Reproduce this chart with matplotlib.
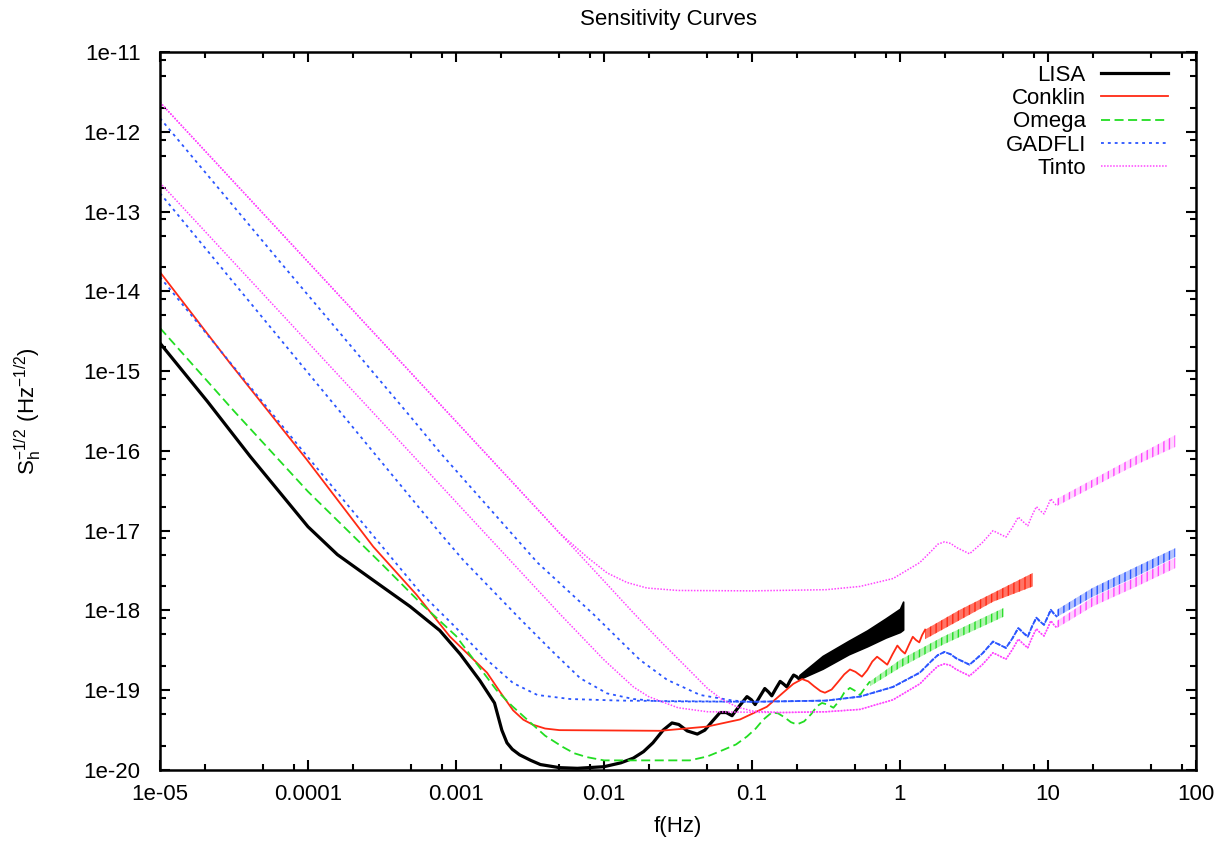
import numpy as np
import matplotlib.pyplot as plt
from matplotlib.colors import to_rgba
from matplotlib.ticker import FixedLocator, FixedFormatter, NullFormatter

plt.rcParams['font.family'] = ['Liberation Sans', 'DejaVu Sans']
plt.rcParams['mathtext.fontset'] = 'custom'
plt.rcParams['mathtext.rm'] = 'Liberation Sans'
plt.rcParams['hatch.linewidth'] = 1.0

# ---- LISA ----
lisa_f = [1e-5, 2.09e-5, 4.07e-5, 1e-4, 1.58e-4, 2.75e-4, 4.9e-4, 7.76e-4, 1.07e-3, 1.45e-3,
          1.82e-3, 2.04e-3, 2.21e-3, 2.4e-3, 2.69e-3, 3.2e-3, 3.72e-3, 5.01e-3, 6.61e-3, 1e-2,
          1.3e-2, 1.58e-2, 1.85e-2, 2.14e-2,
          2.51e-2, 2.88e-2, 3.2e-2, 3.65e-2, 4.27e-2, 4.8e-2, 5.45e-2, 6.08e-2, 6.7e-2, 7.33e-2,
          8.2e-2, 9.25e-2, 9.9e-2, 0.105, 0.113, 0.122, 0.129, 0.136, 0.145, 0.155,
          0.163, 0.172, 0.181, 0.191, 0.200, 0.209]
lisa_s = [2.24e-15, 4.17e-16, 8.51e-17, 1.12e-17, 5.01e-18, 2.40e-18, 1.12e-18, 5.62e-19, 2.82e-19, 1.32e-19,
          6.92e-20, 3.16e-20, 2.19e-20, 1.82e-20, 1.55e-20, 1.32e-20, 1.17e-20, 1.07e-20, 1.05e-20, 1.10e-20,
          1.23e-20, 1.41e-20, 1.70e-20, 2.19e-20,
          3.16e-20, 3.89e-20, 3.72e-20, 3.09e-20, 2.82e-20, 3.16e-20, 4.17e-20, 5.25e-20, 5.25e-20, 4.79e-20,
          6.31e-20, 8.32e-20, 7.59e-20, 6.61e-20, 8.32e-20, 1.05e-19, 9.55e-20, 8.51e-20, 1.05e-19, 1.29e-19,
          1.20e-19, 1.10e-19, 1.32e-19, 1.55e-19, 1.48e-19, 1.38e-19]
# dense oscillation region drawn as its envelope
lisa_band_f = [0.209, 0.30, 0.45, 0.60, 0.80, 1.0, 1.05]
lisa_band_lo = [1.38e-19, 1.86e-19, 2.82e-19, 3.55e-19, 4.57e-19, 5.37e-19, 5.75e-19]
lisa_band_hi = [1.55e-19, 2.69e-19, 4.17e-19, 5.62e-19, 7.94e-19, 1.05e-18, 1.29e-18]

# ---- Conklin ----
conklin_f = [1e-5, 2.97e-5, 9.8e-5, 2.76e-4, 5.4e-4, 9.1e-4, 1.62e-3, 2.0e-3, 2.43e-3, 2.85e-3,
             3.3e-3, 4.0e-3, 5.0e-3, 2.4e-2, 4.97e-2, 8.3e-2, 0.126, 0.162, 0.19, 0.218,
             0.24, 0.263, 0.29, 0.311, 0.345, 0.38, 0.42, 0.459, 0.50, 0.553,
             0.60, 0.65, 0.70, 0.76, 0.82, 0.89, 0.96, 1.02, 1.08, 1.15,
             1.22, 1.28, 1.35, 1.41, 1.48]
conklin_s = [1.74e-14, 1.26e-15, 7.8e-17, 6.3e-18, 1.58e-18, 4.7e-19, 1.66e-19, 9.33e-20, 5.6e-20, 4.27e-20,
             3.7e-20, 3.31e-20, 3.16e-20, 3.1e-20, 3.5e-20, 4.3e-20, 6.2e-20, 9.3e-20, 1.20e-19, 1.38e-19,
             1.29e-19, 1.12e-19, 9.77e-20, 9.3e-20, 1.02e-19, 1.26e-19, 1.58e-19, 1.82e-19, 1.70e-19, 1.48e-19,
             1.78e-19, 2.29e-19, 2.63e-19, 2.34e-19, 2.09e-19, 2.82e-19, 3.63e-19, 3.16e-19, 2.88e-19, 3.72e-19,
             4.68e-19, 4.27e-19, 3.98e-19, 4.90e-19, 5.75e-19]
conklin_band_f = [1.48, 2.54, 4.27, 7.9]
conklin_band_lo = [4.37e-19, 7.59e-19, 1.29e-18, 2.0e-18]
conklin_band_hi = [5.75e-19, 1.02e-18, 1.66e-18, 2.95e-18]

# ---- Omega ----
omega_f = [1e-5, 3.16e-5, 1e-4, 3.16e-4, 5.71e-4, 1e-3, 1.88e-3, 2.4e-3, 3.16e-3, 4.0e-3,
           5.25e-3, 6.3e-3, 7.67e-3, 1e-2, 3.8e-2, 5e-2, 6.37e-2, 7.8e-2, 9.25e-2, 0.106,
           0.119, 0.136, 0.15, 0.166, 0.183, 0.201, 0.225, 0.251, 0.275, 0.297,
           0.325, 0.355, 0.39, 0.42, 0.459, 0.50, 0.537, 0.58, 0.627]
omega_s = [3.47e-15, 3.16e-16, 3.09e-17, 3.80e-18, 1.26e-18, 4.79e-19, 1.0e-19, 6.31e-20, 3.98e-20, 2.69e-20,
           1.95e-20, 1.62e-20, 1.45e-20, 1.32e-20, 1.32e-20, 1.48e-20, 1.78e-20, 2.09e-20, 2.63e-20, 3.31e-20,
           4.27e-20, 5.25e-20, 5.13e-20, 4.57e-20, 3.98e-20, 3.72e-20, 4.07e-20, 5.01e-20, 6.31e-20, 6.92e-20,
           6.61e-20, 6.03e-20, 7.41e-20, 9.33e-20, 1.07e-19, 9.77e-20, 8.71e-20, 1.07e-19, 1.29e-19]
omega_band_f = [0.627, 1.0, 1.95, 5.0]
omega_band_lo = [1.12e-19, 1.91e-19, 3.72e-19, 8.32e-19]
omega_band_hi = [1.29e-19, 2.40e-19, 4.68e-19, 1.07e-18]

# ---- GADFLI (three low-frequency branches, common high-frequency part) ----
gadfli1_f = [1e-5, 6.47e-5, 5.13e-4, 7.8e-4, 3.55e-3, 8.51e-3, 1.29e-2, 1.75e-2, 2.67e-2, 4.47e-2, 7.45e-2]
gadfli1_s = [1.48e-12, 2.34e-14, 2.45e-16, 9.55e-17, 3.98e-18, 8.91e-19, 4.17e-19, 2.40e-19, 1.35e-19, 8.71e-20, 7.41e-20]
gadfli2_f = [1e-5, 7.8e-4, 1.12e-3, 2.69e-3, 4.52e-3, 6.92e-3, 1.05e-2, 1.58e-2, 2.4e-2]
gadfli2_s = [1.70e-13, 9.33e-18, 4.27e-18, 7.94e-19, 3.02e-19, 1.41e-19, 9.12e-20, 7.76e-20, 7.24e-20]
gadfli3_f = [1e-5, 1e-4, 5.71e-4, 9.55e-4, 1.62e-3, 2.43e-3, 3.55e-3, 5.89e-3, 1.29e-2]
gadfli3_s = [1.51e-14, 8.32e-17, 1.70e-18, 6.61e-19, 2.40e-19, 1.23e-19, 8.71e-20, 7.76e-20, 7.41e-20]
gadfli_tail_f = [0.1, 0.316, 0.537, 0.897, 1.36, 1.66, 1.8, 2.0, 2.2, 2.4,
                 2.95, 3.6, 4.25, 4.7, 5.2, 5.75, 6.3, 6.8, 7.3, 7.8,
                 8.35, 8.85, 9.4, 9.9, 10.45, 10.95, 11.5]
gadfli_tail_s = [7.16e-20, 7.41e-20, 8.32e-20, 1.10e-19, 1.66e-19, 2.40e-19, 2.75e-19, 3.02e-19, 2.82e-19, 2.51e-19,
                 2.09e-19, 2.88e-19, 4.07e-19, 3.72e-19, 3.39e-19, 4.47e-19, 6.03e-19, 5.25e-19, 4.68e-19, 6.31e-19,
                 8.13e-19, 7.24e-19, 6.61e-19, 8.13e-19, 1.02e-18, 9.12e-19, 8.32e-19]
gadfli_band_f = [11.5, 19.95, 39.8, 72.4]
gadfli_band_lo = [8.32e-19, 1.48e-18, 2.69e-18, 4.68e-18]
gadfli_band_hi = [1.02e-18, 1.91e-18, 3.55e-18, 6.03e-18]

# ---- Tinto ----
# upper branch (high floor)
tinto1_f = [1e-5, 1e-3, 5.01e-3, 7.67e-3, 1.05e-2, 1.43e-2, 1.95e-2, 3.16e-2,
            0.1, 0.316, 0.537, 0.897, 1.36, 1.66, 1.8, 2.0, 2.2, 2.4,
            2.95, 3.6, 4.25, 4.7, 5.2, 5.75, 6.3, 6.8, 7.3, 7.8,
            8.35, 8.85, 9.4, 9.9, 10.45, 10.95, 11.5]
tinto1_s = [2.34e-12, 2.34e-16, 9.33e-18, 4.68e-18, 2.95e-18, 2.24e-18, 1.91e-18, 1.78e-18,
            1.76e-18, 1.82e-18, 2.0e-18, 2.51e-18, 3.98e-18, 5.75e-18, 6.76e-18, 7.24e-18, 6.92e-18, 6.17e-18,
            5.13e-18, 7.08e-18, 1.0e-17, 9.12e-18, 8.32e-18, 1.10e-17, 1.48e-17, 1.29e-17, 1.15e-17, 1.55e-17,
            2.0e-17, 1.78e-17, 1.62e-17, 2.0e-17, 2.51e-17, 2.24e-17, 2.04e-17]
tinto1_band_f = [11.5, 26.3, 39.8, 72.4]
tinto1_band_lo = [2.04e-17, 4.57e-17, 6.76e-17, 1.12e-16]
tinto1_band_hi = [2.51e-17, 5.75e-17, 8.71e-17, 1.58e-16]
# two lower branches
tinto2_f = [1e-5, 1e-3, 1e-2, 1.58e-2, 2.51e-2, 3.55e-2, 5.01e-2, 6.31e-2, 7.94e-2, 0.1]
tinto2_s = [2.34e-12, 2.34e-16, 2.34e-18, 9.33e-19, 3.80e-19, 2.0e-19, 1.05e-19, 7.59e-20, 6.17e-20, 5.5e-20]
tinto3_f = [1e-5, 1e-3, 5.01e-3, 1e-2, 1.58e-2, 2.0e-2, 3.16e-2, 5.01e-2]
tinto3_s = [2.29e-13, 2.29e-17, 9.12e-19, 2.40e-19, 1.10e-19, 8.32e-20, 6.03e-20, 5.37e-20]
tinto_tail_f = [0.158, 0.316, 0.537, 0.897, 1.36, 1.66, 1.8, 2.0, 2.2, 2.4,
                2.95, 3.6, 4.25, 4.7, 5.2, 5.75, 6.3, 6.8, 7.3, 7.8,
                8.35, 8.85, 9.4, 9.9, 10.45, 10.95, 11.5]
tinto_tail_s = [5.25e-20, 5.37e-20, 5.75e-20, 7.59e-20, 1.20e-19, 1.74e-19, 2.0e-19, 2.14e-19, 2.04e-19, 1.82e-19,
                1.51e-19, 2.09e-19, 2.95e-19, 2.69e-19, 2.45e-19, 3.24e-19, 4.37e-19, 3.80e-19, 3.39e-19, 4.57e-19,
                5.89e-19, 5.25e-19, 4.79e-19, 5.89e-19, 7.41e-19, 6.61e-19, 6.03e-19]
tinto_band_f = [11.5, 19.95, 39.8, 72.4]
tinto_band_lo = [6.03e-19, 1.12e-18, 2.0e-18, 3.39e-18]
tinto_band_hi = [7.41e-19, 1.45e-18, 2.63e-18, 4.57e-18]

x_ticks = [1e-5, 1e-4, 1e-3, 1e-2, 1e-1, 1, 10, 100]
x_labels = ['1e-05', '0.0001', '0.001', '0.01', '0.1', '1', '10', '100']
y_ticks = [1e-20, 1e-19, 1e-18, 1e-17, 1e-16, 1e-15, 1e-14, 1e-13, 1e-12, 1e-11]
y_labels = ['1e-20', '1e-19', '1e-18', '1e-17', '1e-16', '1e-15', '1e-14', '1e-13', '1e-12', '1e-11']

RED = '#ff2a14'
GREEN = '#22dd22'
BLUE = '#2a55ff'
MAGENTA = '#ff44ff'


def band(ax, f, lo, hi, color, face_alpha, hatch):
    # envelope of the fast oscillations: faint fill plus vertical strokes
    ax.fill_between(f, lo, hi, facecolor=to_rgba(color, face_alpha), edgecolor=color,
                    hatch=hatch, lw=0)


fig = plt.figure(figsize=(12.24, 8.44), dpi=100)
ax = fig.add_axes([160 / 1224, 74 / 844, 1036 / 1224, 718 / 844])
ax.set_xscale('log')
ax.set_yscale('log')

# LISA
ax.plot(lisa_f, lisa_s, color='black', lw=2.3, label='LISA', solid_joinstyle='round')
ax.fill_between(lisa_band_f, lisa_band_lo, lisa_band_hi, color='black', lw=1.2)

# Conklin
ax.plot(conklin_f, conklin_s, color=RED, lw=1.3, label='Conklin', solid_joinstyle='round')
band(ax, conklin_band_f, conklin_band_lo, conklin_band_hi, RED, 0.65, '|||')

# Omega
ax.plot(omega_f, omega_s, color=GREEN, lw=1.3, dashes=(5, 2.5), label='Omega')
band(ax, omega_band_f, omega_band_lo, omega_band_hi, GREEN, 0.35, '|||')

# GADFLI
for i, (hf, hs) in enumerate([(gadfli1_f, gadfli1_s), (gadfli2_f, gadfli2_s), (gadfli3_f, gadfli3_s)]):
    ax.plot(np.concatenate([hf, gadfli_tail_f]), np.concatenate([hs, gadfli_tail_s]),
            color=BLUE, lw=1.3, dashes=(1.6, 2.2), label='GADFLI' if i == 0 else None)
band(ax, gadfli_band_f, gadfli_band_lo, gadfli_band_hi, BLUE, 0.35, '|||')

# Tinto
ax.plot(tinto1_f, tinto1_s, color=MAGENTA, lw=1.1, dashes=(1, 1), label='Tinto')
band(ax, tinto1_band_f, tinto1_band_lo, tinto1_band_hi, MAGENTA, 0.2, '|||')
for hf, hs in [(tinto2_f, tinto2_s), (tinto3_f, tinto3_s)]:
    ax.plot(np.concatenate([hf, tinto_tail_f]), np.concatenate([hs, tinto_tail_s]),
            color=MAGENTA, lw=1.1, dashes=(1, 1))
band(ax, tinto_band_f, tinto_band_lo, tinto_band_hi, MAGENTA, 0.25, '|||')

ax.set_xlim(1e-5, 100)
ax.set_ylim(1e-20, 1e-11)

# ticks: majors per decade, minors at 2, 5, 8
ax.xaxis.set_major_locator(FixedLocator(x_ticks))
ax.xaxis.set_major_formatter(FixedFormatter(x_labels))
ax.yaxis.set_major_locator(FixedLocator(y_ticks))
ax.yaxis.set_major_formatter(FixedFormatter(y_labels))
ax.xaxis.set_minor_locator(FixedLocator([m * t for t in x_ticks[:-1] for m in (2, 5, 8)]))
ax.yaxis.set_minor_locator(FixedLocator([m * t for t in y_ticks[:-1] for m in (2, 5, 8)]))
ax.xaxis.set_minor_formatter(NullFormatter())
ax.yaxis.set_minor_formatter(NullFormatter())
ax.tick_params(which='both', direction='in', top=True, right=True, width=1.5, labelsize=16)
ax.tick_params(which='major', length=7, pad=10)
ax.tick_params(which='minor', length=4)
ax.tick_params(axis='y', which='major', pad=14)
for sp in ax.spines.values():
    sp.set_linewidth(1.8)

ax.set_xlabel('f(Hz)', fontsize=16)
ax.xaxis.set_label_coords(0.5, -0.064)
ax.set_ylabel(r'$\mathregular{S_h^{-1/2}\ (Hz^{-1/2})}$', fontsize=16)
ax.yaxis.set_label_coords(-0.112, 0.5)
fig.text(669 / 1224, 1 - 19 / 844, 'Sensitivity Curves', ha='center', va='center', fontsize=16)

ax.legend(loc='upper right', bbox_to_anchor=(0.973, 0.982), frameon=False, markerfirst=False,
          handlelength=3.0, handletextpad=0.7, labelspacing=0.1, borderpad=0, borderaxespad=0,
          fontsize=16)

fig.savefig('out.png', dpi=100)
